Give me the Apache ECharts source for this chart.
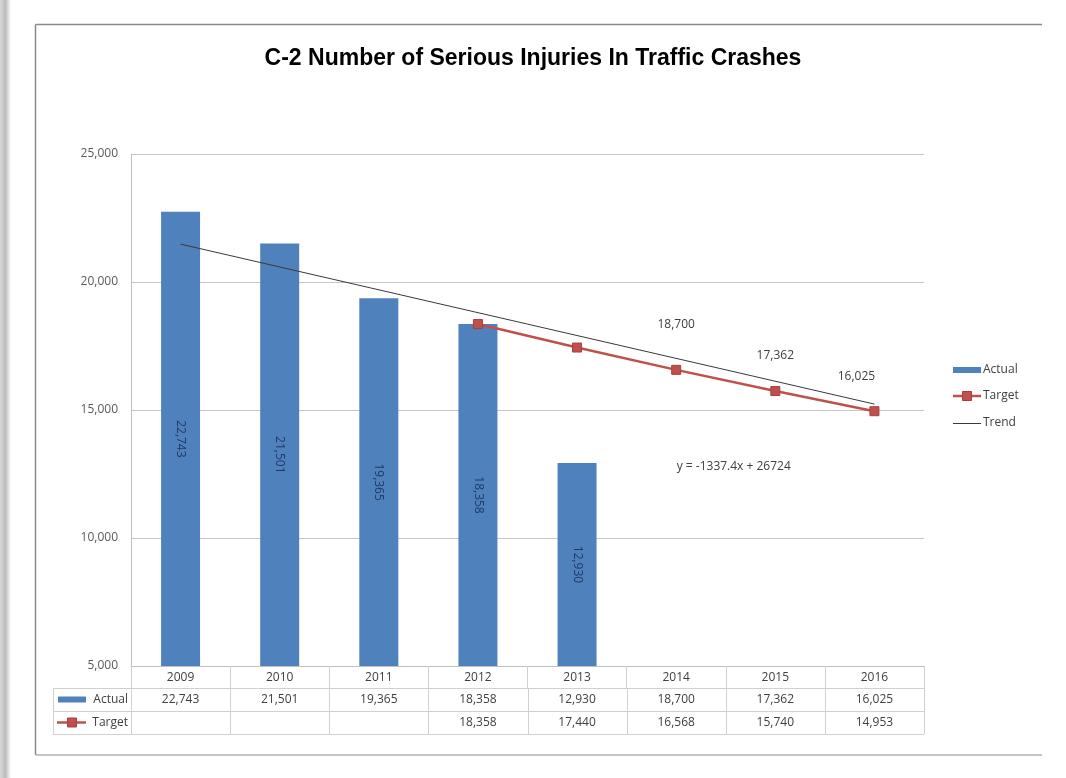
<!DOCTYPE html>
<html>
<head>
<meta charset="utf-8">
<title>C-2 Number of Serious Injuries In Traffic Crashes</title>
<script src="https://cdn.jsdelivr.net/npm/echarts@6/dist/echarts.min.js"></script>
<style>
  html, body { margin: 0; padding: 0; background: #ffffff; }
  #chart { width: 1066px; height: 778px; }
</style>
</head>
<body>
<div id="chart"></div>
<script>
// ---- data ----
const years = ['2009', '2010', '2011', '2012', '2013', '2014', '2015', '2016'];
const actual = [22743, 21501, 19365, 18358, 12930, 18700, 17362, 16025];
const target = [null, null, null, 18358, 17440, 16568, 15740, 14953];
const trendEnds = [21480, 15230];          // linear trend at first and last year
const plottedActualYears = 5;              // years drawn as bars; later ones are projections
const yMin = 5000, yMax = 25000, yStep = 5000;
const equationText = 'y = -1337.4x + 26724';
const titleText = 'C-2 Number of Serious Injuries In Traffic Crashes';
const legendNames = ['Actual', 'Target', 'Trend'];

// ---- styling ----
const BLUE = '#4f81bd';
const RED = '#c0504d';
const RED_EDGE = '#a5403d';
const TREND = '#3a3a3a';
const TEXT = '#404040';
const LINE = '#d0d0d0';
const FONT = '"Open Sans", "Liberation Sans", sans-serif';

// label nudges for projected (unplotted) actual values
const projectedLabelOffset = { 5: [0, -2], 6: [0, -5], 7: [-18, -18] };

const fmt = v => v.toLocaleString('en-US');

const actualData = actual.map((v, i) => {
  if (i < plottedActualYears) {
    return {
      value: v,
      label: {
        show: true, position: 'inside', rotate: -90,
        color: '#1f3864', fontSize: 12, fontFamily: FONT,
        formatter: p => fmt(p.value)
      }
    };
  }
  return {
    value: v,
    itemStyle: { color: 'rgba(0,0,0,0)' },
    label: {
      show: true, position: 'insideTop', rotate: 0,
      offset: projectedLabelOffset[i] || [0, 0],
      color: TEXT, fontSize: 12, fontFamily: FONT,
      formatter: p => fmt(p.value)
    }
  };
});

const chart = echarts.init(document.getElementById('chart'), null, { renderer: 'canvas' });

const option = {
  animation: false,
  backgroundColor: '#ffffff',
  title: {
    text: titleText,
    left: 'center',
    top: 42,
    textStyle: { fontFamily: '"Liberation Sans", Arial, sans-serif', fontWeight: 'bold', fontSize: 23, color: '#000' }
  },
  grid: { left: 131, right: 142, top: 154, bottom: 112 },
  xAxis: {
    type: 'category',
    data: years,
    axisLine: { show: true, lineStyle: { color: '#bfbfbf' } },
    axisTick: { show: true, length: 22, lineStyle: { color: LINE } },
    axisLabel: { color: TEXT, fontSize: 12, fontFamily: FONT, margin: 6 }
  },
  yAxis: {
    type: 'value',
    min: yMin, max: yMax, interval: yStep,
    axisLine: { show: true, lineStyle: { color: '#bfbfbf' } },
    axisTick: { show: false },
    splitLine: { lineStyle: { color: '#c6c6c6' } },
    axisLabel: { color: '#595959', fontSize: 12, fontFamily: FONT, margin: 13, formatter: v => fmt(v) }
  },
  series: [
    {
      name: legendNames[0],
      type: 'bar',
      barWidth: 39,
      itemStyle: { color: BLUE },
      data: actualData,
      z: 2
    },
    {
      name: legendNames[1],
      type: 'line',
      data: target,
      symbol: 'rect',
      symbolSize: 9,
      lineStyle: { color: RED, width: 2.5 },
      itemStyle: { color: RED, borderColor: RED_EDGE, borderWidth: 1 },
      z: 4
    },
    {
      name: legendNames[2],
      type: 'line',
      data: [[0, trendEnds[0]], [years.length - 1, trendEnds[1]]],
      symbol: 'none',
      lineStyle: { color: TREND, width: 1 },
      itemStyle: { color: TREND },
      z: 3
    }
  ]
};

chart.setOption(option);

// ---- frame, legend, data table and annotation drawn after layout ----
function drawExtras() {
  const xs = years.map((_, i) => chart.convertToPixel({ xAxisIndex: 0 }, i));
  const step = xs[1] - xs[0];
  const gridLeft = xs[0] - step / 2;
  const gridRight = xs[xs.length - 1] + step / 2;
  const axisY = chart.convertToPixel({ yAxisIndex: 0 }, yMin);

  const headerBottom = axisY + 22;
  const rowH = 23;
  const row1Bottom = headerBottom + rowH;
  const row2Bottom = row1Bottom + rowH;
  const keyLeft = 53;

  const els = [];
  const line = (x1, y1, x2, y2, color, w) => els.push({
    type: 'line', silent: true,
    shape: { x1, y1, x2, y2 },
    style: { stroke: color || LINE, lineWidth: w || 1 }
  });
  const rect = (x, y, width, height, fill, stroke) => els.push({
    type: 'rect', silent: true,
    shape: { x, y, width, height },
    style: stroke ? { fill, stroke, lineWidth: 1 } : { fill }
  });
  const text = (str, x, y, align, color) => els.push({
    type: 'text', silent: true,
    style: {
      text: str, x, y, align: align || 'center', verticalAlign: 'middle',
      fill: color || TEXT, font: '12px ' + FONT
    }
  });

  // page shading on the left edge
  els.push({
    type: 'rect', silent: true,
    shape: { x: 0, y: 0, width: 11, height: 778 },
    style: {
      fill: new echarts.graphic.LinearGradient(0, 0, 1, 0, [
        { offset: 0, color: '#d8d8d8' },
        { offset: 0.5, color: '#bcbcbc' },
        { offset: 1, color: '#ffffff' }
      ])
    }
  });

  // chart frame
  line(35.5, 24.5, 1042, 24.5, '#8a8a8a', 1.5);
  line(35.5, 24.5, 35.5, 755, '#8a8a8a', 1.5);
  line(35.5, 755, 1042, 755, '#b0b0b0', 1.5);

  // legend
  const lgX = 953, lgY = [370, 396, 423];
  rect(lgX, lgY[0] - 3, 28, 6, BLUE);
  line(lgX, lgY[1], lgX + 28, lgY[1], RED, 2.5);
  rect(lgX + 9.5, lgY[1] - 4.5, 9, 9, RED, RED_EDGE);
  line(lgX, lgY[2] + 0.5, lgX + 28, lgY[2] + 0.5, TREND, 1);
  legendNames.forEach((n, i) => text(n, lgX + 30, lgY[i], 'left'));

  // table grid
  [headerBottom, row1Bottom, row2Bottom].forEach(y => line(keyLeft, Math.round(y) + 0.5, gridRight, Math.round(y) + 0.5));
  line(keyLeft + 0.5, headerBottom, keyLeft + 0.5, row2Bottom);
  for (let i = 0; i <= years.length; i++) {
    const x = Math.round(gridLeft + i * step) + 0.5;
    line(x, i === 0 ? axisY : headerBottom, x, row2Bottom);
  }

  // row keys
  const r1 = headerBottom + rowH / 2;
  const r2 = row1Bottom + rowH / 2;
  rect(keyLeft + 5, r1 - 3, 28, 6, BLUE);
  text(legendNames[0], gridLeft - 3, r1, 'right');
  line(keyLeft + 4, r2, keyLeft + 33, r2, RED, 2.5);
  rect(keyLeft + 14.5, r2 - 4.5, 9, 9, RED, RED_EDGE);
  text(legendNames[1], gridLeft - 3, r2, 'right');

  // row values
  actual.forEach((v, i) => { if (v != null) text(fmt(v), xs[i], r1); });
  target.forEach((v, i) => { if (v != null) text(fmt(v), xs[i], r2); });

  // trend equation
  text(equationText, (xs[5] + xs[6]) / 2 + 8, chart.convertToPixel({ yAxisIndex: 0 }, 12800));

  chart.setOption({ graphic: { elements: els } });
}

drawExtras();
</script>
</body>
</html>
